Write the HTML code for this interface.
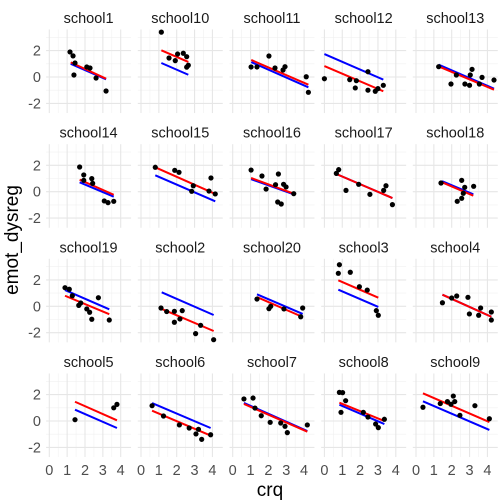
<!DOCTYPE html>
<html><head><meta charset="utf-8"><style>
html,body{margin:0;padding:0;background:#fff;}
svg{display:block;font-family:"Liberation Sans",Arial,sans-serif;}
</style></head><body>
<svg id="chart" width="504" height="504" viewBox="0 0 504 504"></svg>
<script>
const schools=["school1","school10","school11","school12","school13","school14","school15","school16","school17","school18","school19","school2","school20","school3","school4","school5","school6","school7","school8","school9"];
const ptsX=[
[1.16,1.33,1.44,1.38,2.1,2.28,2.62,3.18],
[1.14,1.57,1.92,2.05,2.37,2.56,2.65,2.56],
[1.03,1.36,2.03,2.37,2.82,2.93,4.12,4.24],
[0,1.42,1.79,1.73,2.44,2.44,2.85,3.0,3.3],
[1.27,1.96,2.26,2.74,3.0,3.04,3.14,3.55,3.7,4.37],
[1.7,1.93,1.93,2.38,2.43,3.08,3.29,3.61],
[0.8,1.89,2.13,2.93,2.84,3.92,3.81,4.16],
[1.03,1.64,1.87,2.56,2.4,2.85,2.99,3.42,2.52,2.72],
[0.8,0.67,1.21,1.92,2.55,3.32,3.45,3.81],
[1.4,2.56,2.73,3.23,2.65,2.56,2.31],
[0.88,1.12,1.29,1.65,1.76,2.1,2.26,2.38,2.75,3.36],
[1.12,1.44,1.87,1.87,2.18,2.31,3.34,3.06,4.07],
[1.36,2.03,2.13,2.87,3.81,3.92],
[0.84,0.78,1.45,1.96,2.4,2.91,3.02],
[1.48,2.0,2.28,2.91,2.99,3.51,3.62,4.22,4.22],
[1.44,3.61,3.79],
[0.62,1.26,2.15,2.7,3.08,3.22,3.4,3.9],
[0.63,1.14,1.25,1.6,2.1,2.69,2.93,3.06,4.18],
[0.84,1.02,1.19,0.93,2.18,2.44,2.87,3.02,3.36],
[0.39,1.36,1.76,1.96,2.09,2.17,2.46,3.3,4.11]];
const ptsY=[
[1.9,1.6,1.06,0.15,0.76,0.68,-0.08,-1.06],
[3.4,1.44,1.24,1.74,1.8,1.54,0.89,0.75],
[0.76,0.76,1.59,0.68,0.53,0.78,0.02,-1.16],
[-0.13,-0.2,-0.28,-0.83,0.4,-1.0,-1.08,-0.88,-0.63],
[0.78,-0.53,0.15,-0.53,-0.63,0.15,0.58,-0.53,-0.03,-0.23],
[1.87,1.27,0.86,0.99,0.63,-0.7,-0.83,-0.73],
[1.85,1.62,1.47,0.45,0.03,1.04,0.05,-0.17],
[1.64,1.19,0.2,1.34,0.53,0.56,0.36,-0.15,-0.78,-0.93],
[1.67,1.39,0.1,0.56,-0.2,0.1,0.45,-0.98],
[0.66,0.86,0.33,0.41,-0.12,-0.5,-0.73],
[1.41,1.29,0.8,0.07,0.25,-0.2,-0.45,-0.98,0.65,-1.04],
[-0.13,-0.4,-0.38,-1.21,-0.96,-0.33,-1.44,-2.07,-2.53],
[0.55,-0.18,0,-0.2,-0.79,-0.13],
[3.15,2.5,2.58,1.48,1.23,-0.33,-0.68],
[0.27,0.63,0.78,0.68,-0.58,-0.68,-0.13,-0.43,-1.04],
[0.1,1.0,1.26],
[1.16,0.38,-0.3,-0.53,-0.98,-0.63,-1.39,-1.04],
[1.67,1.74,0.98,0.4,-0.1,-0.15,-0.4,-0.88,-0.3],
[2.17,2.15,1.54,0.66,0.66,0.3,-0.23,-0.5,0.13],
[1.04,1.32,1.47,1.27,1.89,1.47,0.43,1.16,0.17]];
const lineX0=[1.2,1.14,1.04,0,1.27,1.7,0.8,1.03,0.67,1.46,0.88,1.16,1.36,0.78,1.48,1.44,0.62,0.63,0.84,0.39];
const lineX1=[3.18,2.65,4.24,3.3,4.37,3.61,4.16,3.42,3.81,3.21,3.36,4.07,3.92,3.02,4.22,3.79,3.9,4.18,3.36,4.11];
const redY0=[1.11,2.02,1.29,0.83,0.8,0.91,1.85,1.04,1.34,0.71,0.8,-0.2,0.7,1.97,0.88,1.46,0.78,1.29,1.39,2.1];
const redY1=[-0.13,1.14,-0.58,-1.08,-0.96,-0.23,-0.17,-0.15,-0.48,-0.3,-0.6,-1.87,-0.81,0.65,-0.79,0.05,-1.1,-0.81,0,-0.08];
const blueY0=[1.0,1.06,1.13,1.74,0.93,0.71,1.24,0.95,1.34,0.8,1.23,1.06,0.91,1.26,0.88,0.86,1.36,1.37,1.23,1.49];
const blueY1=[-0.18,0.17,-0.78,-0.2,-0.88,-0.38,-0.73,-0.2,-0.48,-0.2,-0.23,-0.66,-0.58,-0.05,-0.79,-0.53,-0.53,-0.76,-0.23,-0.68];
const xTicks=[0,1,2,3,4];
const yTicks=[-2,0,2];

const NS="http://www.w3.org/2000/svg";
const svg=document.getElementById('chart');
function mk(tag,attrs,parent){const e=document.createElementNS(NS,tag);for(const k in attrs)e.setAttribute(k,attrs[k]);(parent||svg).appendChild(e);return e;}
const colX0=[49.3,141,232.7,324.4,416], rowY0=[77,191.7,306.3,421];
const XS=17.85, YS=13.2, XMIN=-0.18, XMAX=4.58, YMAX=3.6, YMIN=-2.73;
schools.forEach((name,i)=>{
  const c=i%5, r=Math.floor(i/5);
  const sx=v=>colX0[c]+XS*v, sy=v=>rowY0[r]-YS*v;
  const g=mk('g',{});
  
  
  const L=sx(XMIN),R=sx(XMAX),T=sy(YMAX),B=sy(YMIN);
  [0.5,1.5,2.5,3.5].forEach(v=>mk('line',{x1:sx(v),x2:sx(v),y1:T,y2:B,stroke:'#f0f0f0','stroke-width':0.6},g));
  [-1,1,3].forEach(v=>mk('line',{x1:L,x2:R,y1:sy(v),y2:sy(v),stroke:'#f0f0f0','stroke-width':0.6},g));
  xTicks.forEach(v=>mk('line',{x1:sx(v),x2:sx(v),y1:T,y2:B,stroke:'#e6e6e6','stroke-width':1.1},g));
  yTicks.forEach(v=>mk('line',{x1:L,x2:R,y1:sy(v),y2:sy(v),stroke:'#e6e6e6','stroke-width':1.1},g));
  const st=mk('text',{x:(L+R)/2,y:rowY0[r]-54,'text-anchor':'middle','font-size':14.5,fill:'#1a1a1a'},g);
  st.textContent=name;
  
  
  const bl=mk('line',{x1:sx(lineX0[i]),y1:sy(blueY0[i]),x2:sx(lineX1[i]),y2:sy(blueY1[i]),stroke:'#0000ff','stroke-width':2},g);
  
  
  const rl=mk('line',{x1:sx(lineX0[i]),y1:sy(redY0[i]),x2:sx(lineX1[i]),y2:sy(redY1[i]),stroke:'#ff0000','stroke-width':2},g);
  
  
  ptsX[i].forEach((xv,j)=>{
    const p=mk('circle',{cx:sx(xv),cy:sy(ptsY[i][j]),r:2.6,fill:'#000'},g);
    
    
  });
  if(c===0){yTicks.forEach(v=>{const t=mk('text',{x:41,y:sy(v)+5,'text-anchor':'end','font-size':14.5,fill:'#4d4d4d'});t.textContent=String(v).replace('-','-');
    
    });}
  if(r===3){xTicks.forEach(v=>{const t=mk('text',{x:sx(v),y:475,'text-anchor':'middle','font-size':14.5,fill:'#4d4d4d'});t.textContent=v;
    
    });}
});
const xt=mk('text',{x:270,y:496,'text-anchor':'middle','font-size':19,fill:'#000'});xt.textContent='crq';


const yt=mk('text',{x:0,y:0,'text-anchor':'middle','font-size':19,fill:'#000',transform:'translate(18,240) rotate(-90)'});yt.textContent='emot_dysreg';


</script>
</body></html>
